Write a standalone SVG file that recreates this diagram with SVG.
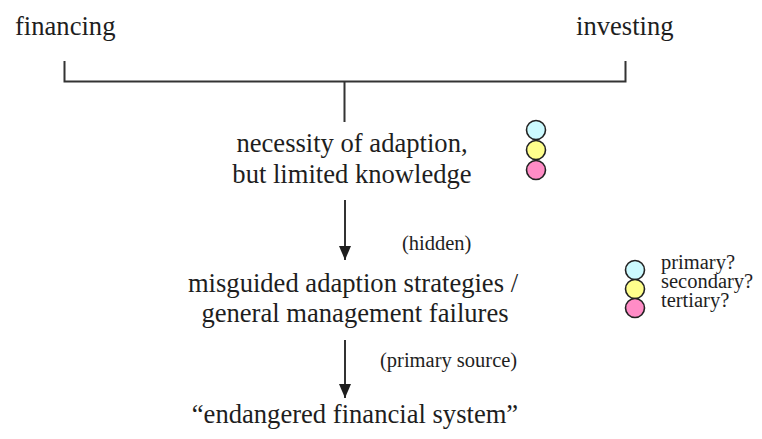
<svg xmlns="http://www.w3.org/2000/svg" width="762" height="439" viewBox="0 0 762 439">
  <style>
    .serif { font-family: "Liberation Serif", "Tinos", "Noto Serif", "Nimbus Roman", "FreeSerif", "DejaVu Serif", Times, serif; fill: #1e1e1e; }
    .big { font-size: 26.6px; }
    .small { font-size: 20.5px; }
    .line { stroke: #333; stroke-width: 2; fill: none; }
    .dot { stroke: #222; stroke-width: 1.6; }
    .c1 { fill: #ccfaff; }
    .c2 { fill: #ffff8c; }
    .c3 { fill: #ff8cc6; }
  </style>
  <defs>
    <marker id="arrow" viewBox="0 0 14 12" refX="14" refY="6" markerWidth="14" markerHeight="12" markerUnits="userSpaceOnUse" orient="auto">
      <path d="M0,0 L14,6 L0,12 Z" fill="#1e1e1e"/>
    </marker>
  </defs>

  <rect width="762" height="439" fill="#ffffff"/>

  <g id="financing">
    <text class="serif big" x="15" y="35">financing</text>
  </g>
  <g id="investing">
    <text class="serif big" x="576" y="35">investing</text>
  </g>

  <g id="necessity">
    <text class="serif big" x="352" y="152" text-anchor="middle">necessity of adaption,</text>
    <text class="serif big" x="352" y="183" text-anchor="middle">but limited knowledge</text>
  </g>
  <g id="necessity-levels">
    <circle class="dot c1" cx="536" cy="130" r="9.5"/>
    <circle class="dot c2" cx="536" cy="150" r="9.5"/>
    <circle class="dot c3" cx="536" cy="170" r="9.5"/>
  </g>

  <g id="misguided">
    <text class="serif big" x="353" y="292" text-anchor="middle">misguided adaption strategies /</text>
    <text class="serif big" x="355" y="322" text-anchor="middle">general management failures</text>
  </g>

  <g id="endangered">
    <text class="serif big" x="355" y="423" text-anchor="middle">“endangered financial system”</text>
  </g>

  <g id="legend">
    <circle class="dot c1" cx="635" cy="270" r="9.5"/>
    <circle class="dot c2" cx="635" cy="289" r="9.5"/>
    <circle class="dot c3" cx="635" cy="308" r="9.5"/>
    <text class="serif small" x="661" y="269">primary?</text>
    <text class="serif small" x="661" y="288">secondary?</text>
    <text class="serif small" x="661" y="307">tertiary?</text>
  </g>

  <g id="connectors">
    <path class="line" d="M64.5,61 V81.5 H625.5 V61 M344.5,81.5 V122"/>
    <line class="line" x1="345" y1="200" x2="345" y2="260" marker-end="url(#arrow)"/>
    <line class="line" x1="345" y1="340" x2="345" y2="398" marker-end="url(#arrow)"/>
    <text class="serif small" x="402" y="250">(hidden)</text>
    <text class="serif small" x="380" y="367">(primary source)</text>
  </g>
</svg>
